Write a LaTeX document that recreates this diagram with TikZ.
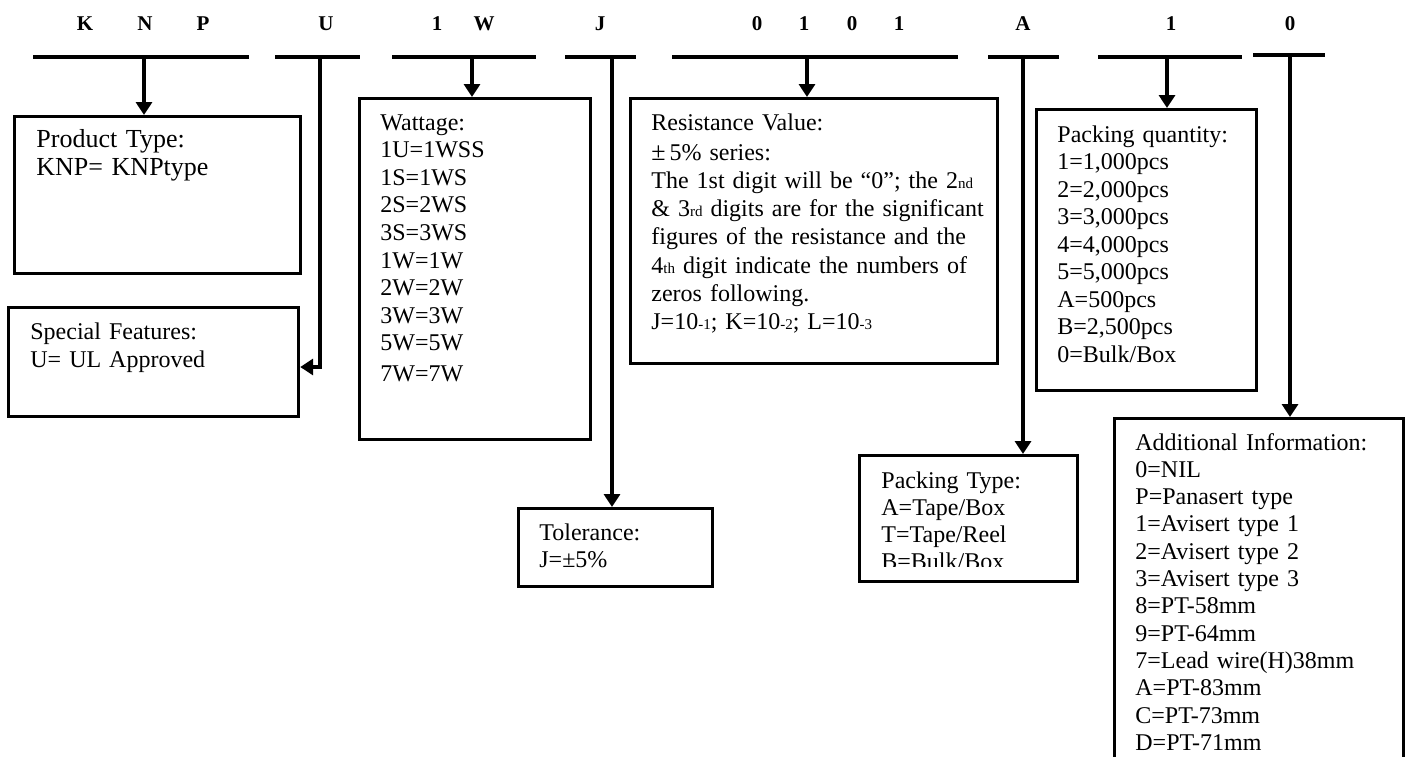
\documentclass[tikz,border=0pt]{standalone}
\usepackage{fontspec}
\setmainfont{Liberation Serif}
\usetikzlibrary{arrows.meta}
\newcommand\mybox[5]{\node[box, minimum width={(#4-#2)*0.5pt}, minimum height={(#5-#3)*0.5pt}] (#1) at (#2,#3) {};}
\newcommand\sm[1]{{\fontsize{7.5}{8}\selectfont #1}}
\begin{document}
\begin{tikzpicture}[x=0.5pt,y=-0.5pt,
  box/.style={draw, line width=1.6pt, inner sep=0pt, anchor=north west},
  conn/.style={line width=1.8pt},
  arr/.style={conn, -{Triangle[length=6.5pt,width=8pt]}},
  bar/.style={line width=2pt},
  code/.style={font=\fontsize{10.5}{12}\selectfont\bfseries, anchor=base, inner sep=0pt},
  txt/.style={anchor=base west, inner sep=0pt, align=left, text width=200pt}]
\useasboundingbox (0,0) rectangle (1409,756);
\clip (0,0) rectangle (1409,756);

% code letters
\node[code] (c1) at (85,30) {K};
\node[code] (c2) at (145,30) {N};
\node[code] (c3) at (203,30) {P};
\node[code] (c4) at (326,30) {U};
\node[code] (c5) at (437,30) {1};
\node[code] (c6) at (484,30) {W};
\node[code] (c7) at (600,30) {J};
\node[code] (c8) at (757,30) {0};
\node[code] (c9) at (804,30) {1};
\node[code] (c10) at (852,30) {0};
\node[code] (c11) at (899,30) {1};
\node[code] (c12) at (1023,30) {A};
\node[code] (c13) at (1171,30) {1};
\node[code] (c14) at (1290,30) {0};

% bars
\coordinate (b1l) at (33,57);   \coordinate (b1r) at (249,57);
\coordinate (b2l) at (275,57);  \coordinate (b2r) at (360,57);
\coordinate (b3l) at (392,57);  \coordinate (b3r) at (536,57);
\coordinate (b4l) at (565,57);  \coordinate (b4r) at (636,57);
\coordinate (b5l) at (672,57);  \coordinate (b5r) at (958,57);
\coordinate (b6l) at (988,57);  \coordinate (b6r) at (1059,57);
\coordinate (b7l) at (1098,57); \coordinate (b7r) at (1242,57);
\coordinate (b8l) at (1253,55); \coordinate (b8r) at (1325,55);
\foreach \i in {1,...,8} {\draw[bar] (b\i l) -- (b\i r);}

% boxes
\mybox{prod}{13}{115}{299}{272}
\mybox{spec}{7}{306}{297}{415}
\mybox{watt}{358}{97}{589}{438}
\mybox{res}{629}{97}{996}{362}
\mybox{tol}{517}{507}{711}{585}
\mybox{ptype}{858}{454}{1076}{580}
\mybox{pqty}{1035}{108}{1255}{389}
\mybox{addl}{1113}{417}{1402}{800}

% texts
\node[txt, font=\fontsize{13}{14}\selectfont] (tprod) at (36,147) {Product Type:\\KNP= KNPtype};
\node[txt, font=\fontsize{12}{14}\selectfont] (tspec) at (30,339) {Special Features:\\U= UL Approved};
\node[txt, font=\fontsize{12}{13.8}\selectfont] (twatt) at (380,130) {Wattage:\\1U=1WSS\\1S=1WS\\2S=2WS\\3S=3WS\\1W=1W\\2W=2W\\3W=3W\\5W=5W\\[1.6pt]7W=7W};
\node[txt, font=\fontsize{12}{14.1}\selectfont] (tres) at (651,130) {Resistance Value:\\[1pt]
{\fontsize{13}{14}\selectfont ±}\,5\% series:\\
The 1st digit will be “0”; the 2\sm{nd}\\
\& 3\sm{rd} digits are for the significant\\
figures of the resistance and the\\
4\sm{th} digit indicate the numbers of\\
zeros following.\\
J=10\sm{-1}; K=10\sm{-2}; L=10\sm{-3}};
\node[txt, font=\fontsize{12}{13.5}\selectfont] (ttol) at (539,540) {Tolerance:\\J=±5\%};
\begin{scope}
\clip (858,454) rectangle (1076,566);
\node[txt, font=\fontsize{12}{13.6}\selectfont] (tptype) at (881,488) {Packing Type:\\A=Tape/Box\\T=Tape/Reel\\B=Bulk/Box};
\end{scope}
\node[txt, font=\fontsize{12}{13.75}\selectfont] (tpqty) at (1057,142) {Packing quantity:\\1=1,000pcs\\2=2,000pcs\\3=3,000pcs\\4=4,000pcs\\5=5,000pcs\\A=500pcs\\B=2,500pcs\\0=Bulk/Box};
\node[txt, font=\fontsize{12}{13.65}\selectfont] (taddl) at (1135,450) {Additional Information:\\0=NIL\\P=Panasert type\\1=Avisert type 1\\2=Avisert type 2\\3=Avisert type 3\\8=PT-58mm\\9=PT-64mm\\7=Lead wire(H)38mm\\A=PT-83mm\\C=PT-73mm\\D=PT-71mm};

% connectors
\coordinate (k1) at (144,57);
\coordinate (k2) at (320,57);
\coordinate (uturn) at (320,367);
\coordinate (k3) at (472,57);
\coordinate (k4) at (612,57);
\coordinate (k5) at (807,57);
\coordinate (k6) at (1023,57);
\coordinate (k7) at (1167,57);
\coordinate (k8) at (1290,55);
\draw[arr] (k1) -- (prod.north -| k1);
\draw[arr] (k2) -- (uturn) -- (spec.east |- uturn);
\draw[arr] (k3) -- (watt.north -| k3);
\draw[arr] (k4) -- (tol.north -| k4);
\draw[arr] (k5) -- (res.north -| k5);
\draw[arr] (k6) -- (ptype.north -| k6);
\draw[arr] (k7) -- (pqty.north -| k7);
\draw[arr] (k8) -- (addl.north -| k8);
\end{tikzpicture}
\end{document}
